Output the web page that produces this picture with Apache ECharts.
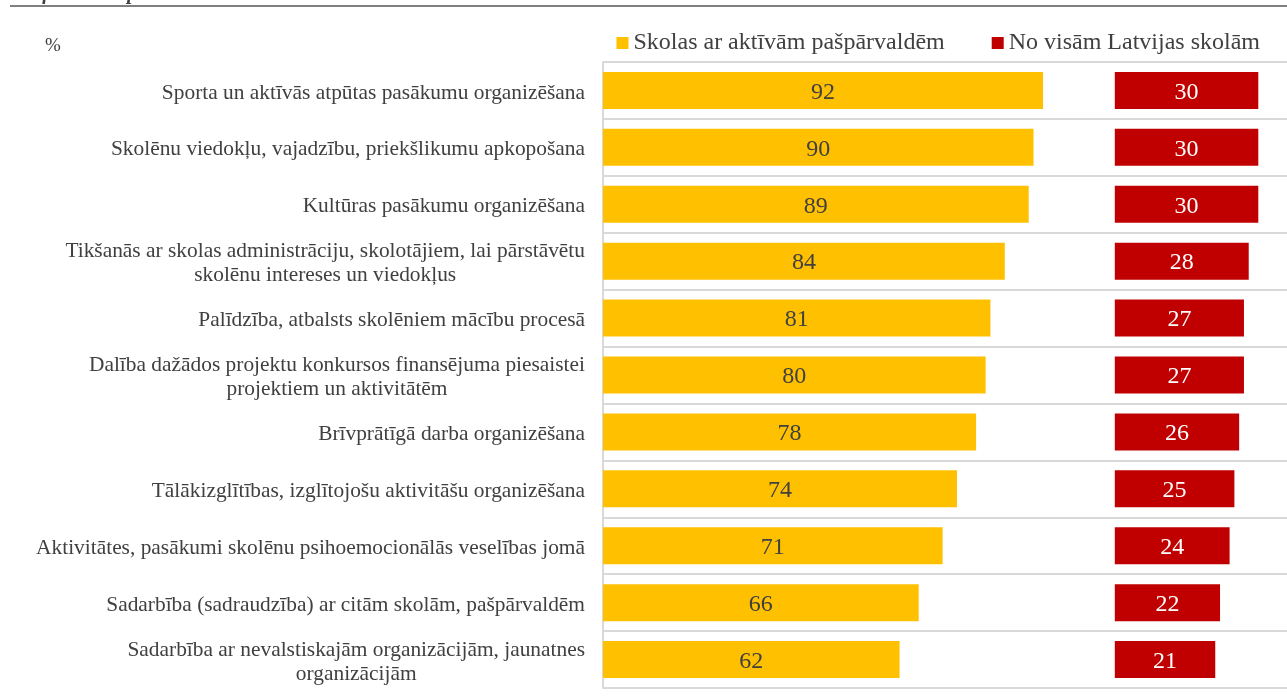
<!DOCTYPE html>
<html>
<head>
<meta charset="utf-8">
<script src="https://cdn.jsdelivr.net/npm/echarts@6/dist/echarts.min.js"></script>
<style>html,body{margin:0;padding:0;background:#fff;}#c{width:1287px;height:697px;}</style>
</head>
<body>
<div id="c"></div>
<script>
const categories = [
  'Sporta un aktīvās atpūtas pasākumu organizēšana',
  'Skolēnu viedokļu, vajadzību, priekšlikumu apkopošana',
  'Kultūras pasākumu organizēšana',
  'Tikšanās ar skolas administrāciju, skolotājiem, lai pārstāvētu\nskolēnu intereses un viedokļus',
  'Palīdzība, atbalsts skolēniem mācību procesā',
  'Dalība dažādos projektu konkursos finansējuma piesaistei\nprojektiem un aktivitātēm',
  'Brīvprātīgā darba organizēšana',
  'Tālākizglītības, izglītojošu aktivitāšu organizēšana',
  'Aktivitātes, pasākumi skolēnu psihoemocionālās veselības jomā',
  'Sadarbība (sadraudzība) ar citām skolām, pašpārvaldēm',
  'Sadarbība ar nevalstiskajām organizācijām, jaunatnes\norganizācijām'
];
const activeSchools = [92, 90, 89, 84, 81, 80, 78, 74, 71, 66, 62];
const allSchools = [30, 30, 30, 28, 27, 27, 26, 25, 24, 22, 21];
const seriesNames = ['Skolas ar aktīvām pašpārvaldēm', 'No visām Latvijas skolām'];

const FONT = "'Liberation Serif', 'Times New Roman', serif";
const TXT = '#404040';
const chart = echarts.init(document.getElementById('c'));
chart.setOption({
  animation: false,
  backgroundColor: '#fff',
  graphic: [
    { type: 'text', left: 10, top: -16, style: { text: 'Grafiks 6. Pašpārvaldu īstenotās aktivitātes', font: "italic bold 20px 'Liberation Serif'", fill: '#404040' } },
    { type: 'rect', shape: { x: 10, y: 5, width: 1277, height: 2 }, style: { fill: '#808080' } },
    { type: 'text', left: 45, top: 37, style: { text: '%', font: "19px 'Liberation Serif'", fill: TXT } }
  ],
  legend: {
    top: 31, right: 27, padding: 0,
    icon: 'rect', itemWidth: 12, itemHeight: 12, itemGap: 47,
    textStyle: { fontFamily: FONT, fontSize: 24, color: TXT },
    data: seriesNames
  },
  grid: { left: 603, right: 0, top: 62, bottom: 9 },
  xAxis: [
    { type: 'value', min: 0, max: 143, show: false },
    { type: 'value', min: -107, max: 36, show: false }
  ],
  yAxis: {
    type: 'category', inverse: true, data: categories,
    axisLine: { show: true, lineStyle: { color: '#d9d9d9', width: 2 } },
    axisTick: { show: false },
    splitLine: { show: true, lineStyle: { color: '#d9d9d9', width: 2 } },
    axisLabel: {
      margin: 18, color: TXT, fontFamily: FONT, fontSize: 21.4, padding: [5, 0, 0, 0],
      formatter: v => v.split('\n').map(l => '{c|' + l + '}').join('\n'),
      rich: { c: { align: 'center', fontFamily: FONT, fontSize: 21.4, color: TXT, lineHeight: 24 } }
    }
  },
  series: [
    {
      name: seriesNames[0], type: 'bar', xAxisIndex: 0, data: activeSchools,
      barWidth: 37, barGap: '-100%',
      itemStyle: { color: '#FFC000' },
      label: { show: true, position: 'inside', offset: [0, 2], color: TXT, fontFamily: FONT, fontSize: 24 }
    },
    {
      name: seriesNames[1], type: 'bar', xAxisIndex: 1, data: allSchools,
      barWidth: 37, barGap: '-100%',
      itemStyle: { color: '#C00000' },
      label: { show: true, position: 'inside', offset: [0, 2], color: '#fff', fontFamily: FONT, fontSize: 24 }
    }
  ]
});
</script>
</body>
</html>
